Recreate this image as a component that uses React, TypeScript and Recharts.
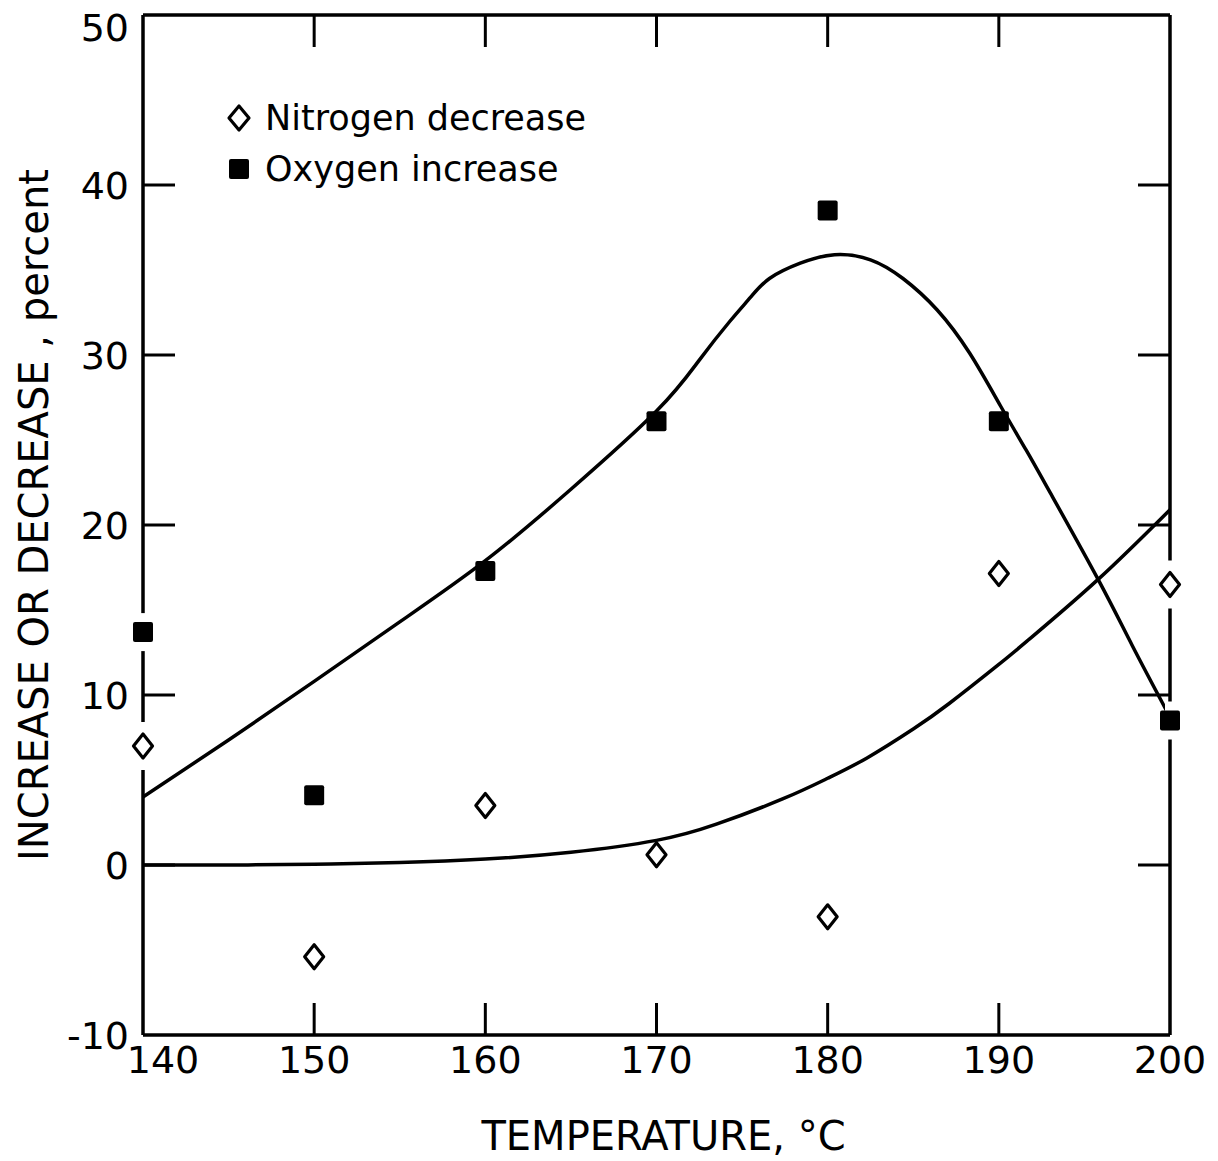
import { ComposedChart, Line, Scatter, XAxis, YAxis, Legend } from 'recharts'

// measured points
const TEMPS = [140, 150, 160, 170, 180, 190, 200]
const OXYGEN_INCREASE = [13.7, 4.1, 17.3, 26.1, 38.5, 26.1, 8.5]
const NITROGEN_DECREASE = [7.0, -5.4, 3.5, 0.6, -3.05, 17.15, 16.5]

// smoothed trend curves, sampled along the drawn trace
const OXYGEN_FIT_T = [140, 145, 150, 155, 160, 165, 170, 172.5, 174.3, 175.5, 176.6, 178.4, 180.4, 182.5, 184.4, 186.4, 188.3, 190.1, 191.6, 193, 195.8, 197.8, 200]
const OXYGEN_FIT = [4.0, 7.35, 10.8, 14.3, 17.9, 22.1, 26.7, 29.7, 32.0, 33.4, 34.5, 35.4, 35.9, 35.6, 34.5, 32.65, 30.1, 27.0, 24.4, 21.9, 16.8, 12.9, 8.7]
const NITROGEN_FIT_T = [140, 145, 150, 155, 160, 165, 170, 173.5, 177.4, 180, 182.3, 185, 187.1, 190, 191.8, 195.8, 200]
const NITROGEN_FIT = [0, 0, 0.05, 0.15, 0.35, 0.75, 1.45, 2.4, 3.9, 5.1, 6.3, 8.0, 9.5, 11.8, 13.3, 16.8, 20.9]

const TEMP_DOMAIN = [140, 200]
const TEMP_TICKS = [140, 150, 160, 170, 180, 190, 200]
const PCT_DOMAIN = [-10, 50]
const PCT_TICKS = [-10, 0, 10, 20, 30, 40, 50]

const NITROGEN_NAME = 'Nitrogen decrease'
const OXYGEN_NAME = 'Oxygen increase'
const X_TITLE = 'TEMPERATURE, °C'
const Y_TITLE = 'INCREASE OR DECREASE , percent'

const FONT = '"DejaVu Sans", Verdana, sans-serif'
const INK = '#000'

const CHART_W = 1218
const CHART_H = 1161
const MARGIN = { top: 14, right: 47, bottom: 0, left: 0 }
const Y_AXIS_W = 143
const X_AXIS_H = 126
// frame edges (top/right axes are 1px thick boxes)
const FRAME_TOP = MARGIN.top + 1
const FRAME_RIGHT = CHART_W - MARGIN.right - 1
const FRAME_LEFT = MARGIN.left + Y_AXIS_W
const FRAME_BOTTOM = CHART_H - MARGIN.bottom - X_AXIS_H
const TICK_LEN = 32
const TICK_W = 3

const pairs = (ts: number[], vs: number[]) => ts.map((t, i) => ({ t, v: vs[i] }))

// markers sitting on the frame get a white gap cut into the axis line
const onFrame = (p: any) => p && (p.t === TEMP_DOMAIN[0] || p.t === TEMP_DOMAIN[1])

function DiamondMark({ cx, cy, payload }: any) {
  if (cx == null || cy == null) return null
  return (
    <g>
      {onFrame(payload) && <rect x={cx - 5} y={cy - 24} width={10} height={48} fill="#fff" />}
      <path
        d={`M${cx},${cy - 12} L${cx + 9.5},${cy} L${cx},${cy + 12} L${cx - 9.5},${cy} Z`}
        fill="#fff" stroke={INK} strokeWidth={3.2} strokeLinejoin="round"
      />
    </g>
  )
}

function SquareMark({ cx, cy, payload }: any) {
  if (cx == null || cy == null) return null
  return (
    <g>
      {onFrame(payload) && <rect x={cx - 5} y={cy - 19} width={10} height={38} fill="#fff" />}
      <rect x={cx - 10} y={cy - 10} width={20} height={20} rx={2} fill={INK} />
    </g>
  )
}

// bottom ticks: inward marks on the bottom and top edges, label below
function TempTick({ x, payload }: any) {
  const first = payload.value === TEMP_TICKS[0]
  const inner = !first && payload.value !== TEMP_TICKS[TEMP_TICKS.length - 1]
  return (
    <g>
      {inner && (
        <>
          <line x1={x} y1={FRAME_BOTTOM} x2={x} y2={FRAME_BOTTOM - TICK_LEN} stroke={INK} strokeWidth={TICK_W} />
          <line x1={x} y1={FRAME_TOP} x2={x} y2={FRAME_TOP + TICK_LEN} stroke={INK} strokeWidth={TICK_W} />
        </>
      )}
      <text x={x + (first ? 20 : 0)} y={FRAME_BOTTOM + 11} dy="0.71em" textAnchor="middle" fontSize={38} fontFamily={FONT} fill={INK}>
        {payload.value}
      </text>
    </g>
  )
}

// left ticks: inward marks on the left and right edges, label to the left
function PctTick({ y, payload }: any) {
  const last = payload.value === PCT_TICKS[PCT_TICKS.length - 1]
  const inner = !last && payload.value !== PCT_TICKS[0]
  return (
    <g>
      {inner && (
        <>
          <line x1={FRAME_LEFT} y1={y} x2={FRAME_LEFT + TICK_LEN} y2={y} stroke={INK} strokeWidth={TICK_W} />
          <line x1={FRAME_RIGHT} y1={y} x2={FRAME_RIGHT - TICK_LEN} y2={y} stroke={INK} strokeWidth={TICK_W} />
        </>
      )}
      <text x={FRAME_LEFT - 14} y={y + (last ? 12 : 0)} dy="0.36em" textAnchor="end" fontSize={38} fontFamily={FONT} fill={INK}>
        {payload.value}
      </text>
    </g>
  )
}

function XTitle({ viewBox }: any) {
  const { x, y, width } = viewBox
  return (
    <text x={x + width / 2 + 7} y={y + 115} textAnchor="middle" fontSize={40} fontFamily={FONT} fill={INK}>
      {X_TITLE}
    </text>
  )
}

function YTitle({ viewBox }: any) {
  const x = viewBox.x + 48
  const y = viewBox.y + viewBox.height / 2 - 10
  return (
    <text x={x} y={y} transform={`rotate(-90 ${x} ${y})`} textAnchor="middle" fontSize={40} fontFamily={FONT} fill={INK}>
      {Y_TITLE}
    </text>
  )
}

function LegendBox({ payload }: any) {
  const items = (payload ?? []).filter((e: any) => e.type === 'diamond' || e.type === 'square')
  return (
    <div style={{ fontFamily: FONT, fontSize: 35, color: INK }}>
      {items.map((e: any) => (
        <div key={e.value} style={{ display: 'flex', alignItems: 'center', height: 51 }}>
          <svg width={28} height={30} style={{ display: 'block' }}>
            {e.type === 'diamond' ? (
              <path d="M14,3 L24,15 L14,27 L4,15 Z" fill="#fff" stroke={INK} strokeWidth={3.2} strokeLinejoin="round" />
            ) : (
              <rect x={4} y={5} width={20} height={20} rx={2} fill={INK} />
            )}
          </svg>
          <span style={{ marginLeft: 12, whiteSpace: 'nowrap' }}>{e.value}</span>
        </div>
      ))}
    </div>
  )
}

export default function App() {
  const axisLine = { stroke: INK, strokeWidth: 3.5 }

  return (
    <div style={{ position: 'absolute', left: 0, top: 0, background: '#fff' }}>
      <ComposedChart width={CHART_W} height={CHART_H} margin={MARGIN}>
        <XAxis
          xAxisId="top" orientation="top" type="number" dataKey="t"
          domain={TEMP_DOMAIN} ticks={TEMP_TICKS} height={1}
          tick={false} tickLine={false} axisLine={axisLine}
        />
        <XAxis
          type="number" dataKey="t" domain={TEMP_DOMAIN} ticks={TEMP_TICKS} interval={0} height={X_AXIS_H}
          tickSize={0} tickMargin={0} tick={<TempTick />} tickLine={false}
          axisLine={axisLine} label={<XTitle />}
        />
        <YAxis
          type="number" dataKey="v" domain={PCT_DOMAIN} ticks={PCT_TICKS} interval={0} width={Y_AXIS_W}
          tickSize={0} tickMargin={0} tick={<PctTick />} tickLine={false}
          axisLine={axisLine} label={<YTitle />}
        />
        <YAxis
          yAxisId="right" orientation="right" type="number" dataKey="v"
          domain={PCT_DOMAIN} ticks={PCT_TICKS} width={1}
          tick={false} tickLine={false} axisLine={axisLine}
        />

        <Line
          data={pairs(OXYGEN_FIT_T, OXYGEN_FIT)} dataKey="v" type="natural"
          stroke={INK} strokeWidth={3.5} dot={false} activeDot={false} legendType="none" isAnimationActive={false}
        />
        <Line
          data={pairs(NITROGEN_FIT_T, NITROGEN_FIT)} dataKey="v" type="natural"
          stroke={INK} strokeWidth={3.5} dot={false} activeDot={false} legendType="none" isAnimationActive={false}
        />
        <Scatter
          name={NITROGEN_NAME} data={pairs(TEMPS, NITROGEN_DECREASE)} dataKey="v"
          legendType="diamond" shape={<DiamondMark />} isAnimationActive={false}
        />
        <Scatter
          name={OXYGEN_NAME} data={pairs(TEMPS, OXYGEN_INCREASE)} dataKey="v"
          legendType="square" shape={<SquareMark />} isAnimationActive={false}
        />

        <Legend
          layout="vertical" align="center" verticalAlign="middle"
          wrapperStyle={{ top: 92, left: 225, width: 420 }}
          content={<LegendBox />}
        />
      </ComposedChart>
    </div>
  )
}
